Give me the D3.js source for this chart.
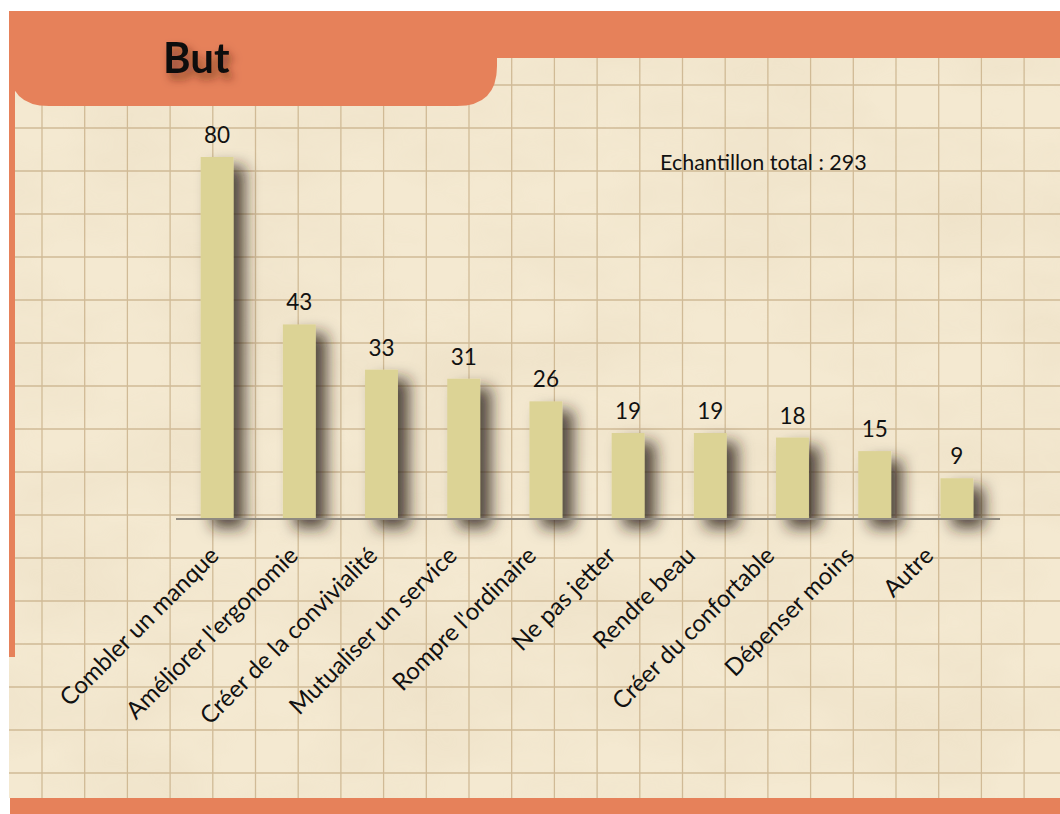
<!DOCTYPE html>
<html>
<head>
<meta charset="utf-8">
<script src="https://cdn.jsdelivr.net/npm/d3@7"></script>
<style>
  body{margin:0;background:#fff;}
  svg{display:block;}
</style>
</head>
<body>
<svg id="chart" width="1060" height="814"></svg>
<script>
// données
const categories=["Combler un manque","Améliorer l'ergonomie","Créer de la convivialité","Mutualiser un service","Rompre l'ordinaire","Ne pas jetter","Rendre beau","Créer du confortable","Dépenser moins","Autre"];
const values=[80,43,33,31,26,19,19,18,15,9];
const title_text="But";
const sample_text="Echantillon total : 293";

const width=1060,height=814;
const svg=d3.select("#chart");
const font="Lato, 'Open Sans', sans-serif";

const defs=svg.append("defs");
// ombre des barres (zone de filtre en coordonnées absolues pour ne pas couper l'ombre)
const shadow=defs.append("filter").attr("id","bar_shadow")
    .attr("filterUnits","userSpaceOnUse")
    .attr("x",0).attr("y",0).attr("width",width).attr("height",height);
shadow.append("feDropShadow")
    .attr("dx",11).attr("dy",9).attr("stdDeviation",7.5)
    .attr("flood-color","#2a2418").attr("flood-opacity",0.8);
// ombre du titre
const tshadow=defs.append("filter").attr("id","title_shadow")
    .attr("x","-30%").attr("y","-30%").attr("width","180%").attr("height","180%");
tshadow.append("feDropShadow")
    .attr("dx",4).attr("dy",6).attr("stdDeviation",4)
    .attr("flood-color","#4a2410").attr("flood-opacity",0.6);
// texture du papier
const paper=defs.append("filter").attr("id","paper_tex")
    .attr("x",0).attr("y",0).attr("width","100%").attr("height","100%");
paper.append("feTurbulence")
    .attr("type","fractalNoise").attr("baseFrequency","0.006 0.012")
    .attr("numOctaves",4).attr("seed",7);
paper.append("feColorMatrix")
    .attr("type","matrix")
    .attr("values","0 0 0 0 0.72  0 0 0 0 0.6  0 0 0 0 0.42  0 0 0 -1.1 0.75");
paper.append("feComposite").attr("operator","in").attr("in2","SourceGraphic");

// papier
svg.append("rect")
    .attr("x",9).attr("y",11)
    .attr("width",width-9).attr("height",798-11)
    .attr("fill","#f4e9d1");
svg.append("rect")
    .attr("x",9).attr("y",11)
    .attr("width",width-9).attr("height",798-11)
    .attr("fill","#fff")
    .attr("opacity",0.35)
    .attr("filter","url(#paper_tex)");

// quadrillage
const grid=svg.append("g").attr("stroke","#cdb690").attr("stroke-width",1.3).attr("opacity",0.9);
for(const gx of d3.range(42,width,42.7)){
    grid.append("line").attr("x1",gx).attr("y1",11).attr("x2",gx).attr("y2",798);
}
for(const gy of d3.range(85,798,43)){
    grid.append("line").attr("x1",9).attr("y1",gy).attr("x2",width).attr("y2",gy);
}

// bandeau orange
const orange="#e6815a";
svg.append("rect").attr("x",9).attr("y",11).attr("width",width-9).attr("height",47).attr("fill",orange);
svg.append("path")
    .attr("d","M9,11 H497 V66 Q497,106 457,106 H49 Q9,106 9,66 Z")
    .attr("fill",orange);
svg.append("rect").attr("x",9).attr("y",11).attr("width",6).attr("height",646).attr("fill",orange);
svg.append("rect").attr("x",10).attr("y",798).attr("width",width-10).attr("height",16).attr("fill",orange);

svg.append("text")
    .attr("x",163).attr("y",73)
    .attr("font-family",font)
    .attr("font-weight","bold")
    .attr("font-size",42)
    .attr("fill","#111")
    .attr("filter","url(#title_shadow)")
    .text(title_text);

// échelles
const axis_y=519;
const x=d3.scaleBand().domain(categories).range([176,998]).paddingInner(0.6).paddingOuter(0.3);
const y=d3.scaleLinear().domain([0,80]).range([axis_y,157]);
const first_c=x(categories[0])+x.bandwidth()/2;
const last_c=x(categories[categories.length-1])+x.bandwidth()/2;
const xl=d3.scalePoint().domain(categories).range([first_c,last_c-25]);

// barres
svg.append("g").selectAll("rect")
    .data(values)
    .join("rect")
    .attr("x",(d,i)=>x(categories[i]))
    .attr("y",d=>y(d))
    .attr("width",x.bandwidth())
    .attr("height",d=>axis_y-y(d))
    .attr("fill","#dcd395")
    .attr("filter","url(#bar_shadow)");

// axe
svg.append("line")
    .attr("x1",176).attr("x2",1000)
    .attr("y1",axis_y).attr("y2",axis_y)
    .attr("stroke","#8f8a80").attr("stroke-width",2);

// valeurs
svg.append("g").selectAll("text")
    .data(values)
    .join("text")
    .attr("x",(d,i)=>x(categories[i])+x.bandwidth()/2)
    .attr("y",d=>y(d)-14)
    .attr("text-anchor","middle")
    .attr("font-family",font)
    .attr("font-size",22.5)
    .attr("fill","#111")
    .text(d=>d);

// étiquettes
svg.append("g").selectAll("text")
    .data(categories)
    .join("text")
    .attr("transform",d=>`translate(${xl(d)+3},${axis_y+38}) rotate(-45)`)
    .attr("text-anchor","end")
    .attr("font-family",font)
    .attr("font-size",24)
    .attr("fill","#111")
    .text(d=>d);

svg.append("text")
    .attr("x",660).attr("y",170)
    .attr("font-family",font)
    .attr("font-size",21.5)
    .attr("fill","#111")
    .text(sample_text);
</script>
</body>
</html>
